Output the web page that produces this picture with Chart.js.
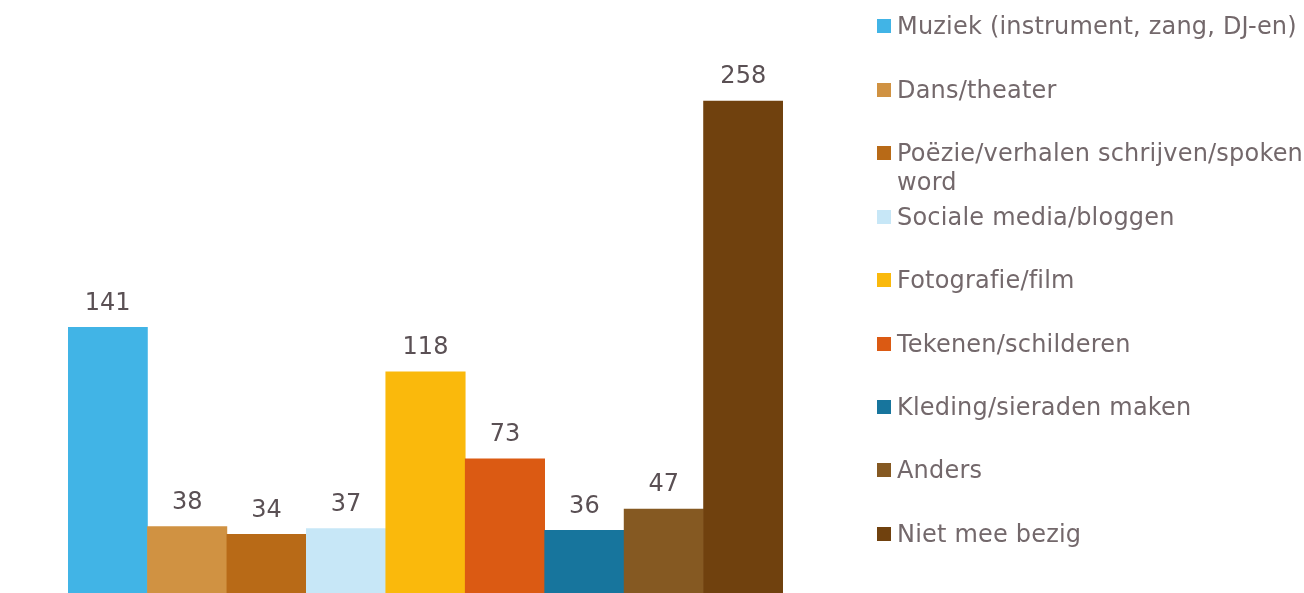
<!DOCTYPE html>
<html>
<head>
<meta charset="utf-8">
<script src="https://cdn.jsdelivr.net/npm/chart.js@4.4.1/dist/chart.umd.min.js"></script>
<style>
  html, body { margin: 0; padding: 0; background: #ffffff; overflow: hidden; width: 1304px; height: 593px; }
  #wrap { position: absolute; left: 0; top: 0; width: 860px; height: 600px; }
  #legend { position: absolute; left: 0; top: 0; width: 1304px; height: 593px; pointer-events: none;
            font-family: "DejaVu Sans", Verdana, sans-serif; font-size: 24px; color: #73686b; letter-spacing: 0.2px; }
  .item { position: absolute; left: 877px; width: 430px; line-height: 29px; }
  .sw { position: absolute; left: 0; top: 7px; width: 14px; height: 14px; }
  .txt { position: absolute; left: 20px; width: 410px; white-space: normal; }
</style>
</head>
<body>
<div id="wrap"><canvas id="c" width="860" height="600"></canvas></div>
<div id="legend"></div>
<script>
const categories = [
  "Muziek (instrument, zang, DJ-en)",
  "Dans/theater",
  "Poëzie/verhalen schrijven/spoken word",
  "Sociale media/bloggen",
  "Fotografie/film",
  "Tekenen/schilderen",
  "Kleding/sieraden maken",
  "Anders",
  "Niet mee bezig"
];
const values = [141, 38, 34, 37, 118, 73, 36, 47, 258];
const colors = ["#41B4E6", "#D09242", "#B86A17", "#C7E7F7", "#FAB90C", "#DB5A13", "#17759D", "#855922", "#70410E"];

const valueLabels = {
  id: "valueLabels",
  afterDatasetsDraw(chart) {
    const ctx = chart.ctx;
    const meta = chart.getDatasetMeta(0);
    ctx.save();
    ctx.font = '24px "DejaVu Sans", Verdana, sans-serif';
    ctx.fillStyle = "#5a5054";
    ctx.textAlign = "center";
    ctx.textBaseline = "middle";
    meta.data.forEach((bar, i) => {
      ctx.fillText(String(values[i]), bar.x, bar.y - 24);
    });
    ctx.restore();
  }
};

new Chart(document.getElementById("c"), {
  type: "bar",
  data: {
    labels: categories,
    datasets: [{
      data: values,
      backgroundColor: colors,
      borderWidth: 0,
      barPercentage: 1,
      categoryPercentage: 1
    }]
  },
  options: {
    responsive: false,
    animation: false,
    layout: { padding: { left: 68, right: 77, top: 20, bottom: 0 } },
    plugins: { legend: { display: false }, tooltip: { enabled: false } },
    scales: {
      x: { display: false },
      y: { display: false, min: 0, max: 300 }
    }
  },
  plugins: [valueLabels]
});

// HTML legend built from the arrays
const legendCenters = [26, 90, 153, 217, 280, 344, 407, 470, 534];
const legend = document.getElementById("legend");
categories.forEach((name, i) => {
  const item = document.createElement("div");
  item.className = "item";
  item.style.top = (legendCenters[i] - 14.5) + "px";
  const sw = document.createElement("div");
  sw.className = "sw";
  sw.style.background = colors[i];
  const t = document.createElement("div");
  t.className = "txt";
  t.textContent = name;
  item.appendChild(sw);
  item.appendChild(t);
  legend.appendChild(item);
});
</script>
</body>
</html>
